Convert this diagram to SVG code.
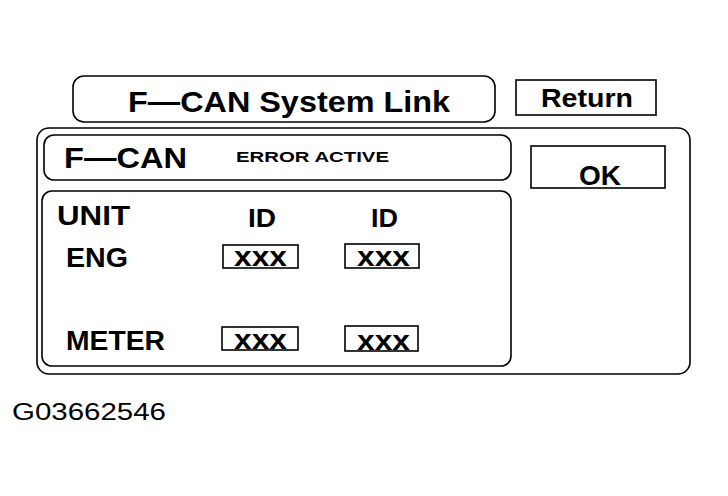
<svg xmlns="http://www.w3.org/2000/svg" width="728" height="496" viewBox="0 0 728 496">
<style>
.box{fill:none;stroke:#000;stroke-width:1.6}
.b{font-family:"Liberation Sans",Arial,sans-serif;font-weight:bold;fill:#000}
.n{font-family:"Liberation Sans",Arial,sans-serif;fill:#000}
</style>
<rect width="728" height="496" fill="#fff"/>
<g id="title">
<rect class="box" x="73" y="76" width="422" height="46" rx="11"/>
<text class="b" x="128" y="112" font-size="30" textLength="322" lengthAdjust="spacingAndGlyphs">F—CAN System Link</text>
</g>
<g id="return">
<rect class="box" x="516" y="80" width="140" height="35"/>
<text class="b" x="541" y="107" font-size="26" textLength="92" lengthAdjust="spacingAndGlyphs">Return</text>
</g>
<g id="panel">
<rect class="box" x="37" y="128" width="653" height="246" rx="12"/>
</g>
<g id="status">
<rect class="box" x="44" y="135" width="467" height="45" rx="10"/>
<text class="b" x="64" y="168" font-size="29" textLength="123" lengthAdjust="spacingAndGlyphs">F—CAN</text>
<text class="b" x="236" y="162" font-size="15" textLength="153" lengthAdjust="spacingAndGlyphs">ERROR ACTIVE</text>
</g>
<g id="ok">
<rect class="box" x="531" y="146" width="134" height="42"/>
<text class="b" x="579" y="185" font-size="27" textLength="42" lengthAdjust="spacingAndGlyphs">OK</text>
</g>
<g id="table">
<rect class="box" x="42" y="191" width="469" height="175" rx="10"/>
<text class="b" x="57" y="225" font-size="27" textLength="73" lengthAdjust="spacingAndGlyphs">UNIT</text>
<text class="b" x="248" y="227" font-size="26" textLength="28" lengthAdjust="spacingAndGlyphs">ID</text>
<text class="b" x="371" y="227" font-size="26" textLength="27" lengthAdjust="spacingAndGlyphs">ID</text>
<text class="b" x="66" y="267" font-size="27" textLength="62" lengthAdjust="spacingAndGlyphs">ENG</text>
<text class="b" x="66" y="350" font-size="27" textLength="99" lengthAdjust="spacingAndGlyphs">METER</text>
</g>
<g id="eng-id1">
<rect class="box" x="223" y="245" width="75" height="23"/>
<text class="b" x="234" y="266" font-size="27" textLength="53" lengthAdjust="spacingAndGlyphs">xxx</text>
</g>
<g id="eng-id2">
<rect class="box" x="345" y="244" width="74" height="24"/>
<text class="b" x="357" y="266" font-size="27" textLength="53" lengthAdjust="spacingAndGlyphs">xxx</text>
</g>
<g id="meter-id1">
<rect class="box" x="222" y="327" width="76" height="23"/>
<text class="b" x="234" y="349" font-size="27" textLength="53" lengthAdjust="spacingAndGlyphs">xxx</text>
</g>
<g id="meter-id2">
<rect class="box" x="345" y="326" width="73" height="25"/>
<text class="b" x="357" y="350" font-size="27" textLength="53" lengthAdjust="spacingAndGlyphs">xxx</text>
</g>
<g id="connectors"></g>
<text class="n" x="12" y="420" font-size="23" textLength="154" lengthAdjust="spacingAndGlyphs">G03662546</text>
</svg>
